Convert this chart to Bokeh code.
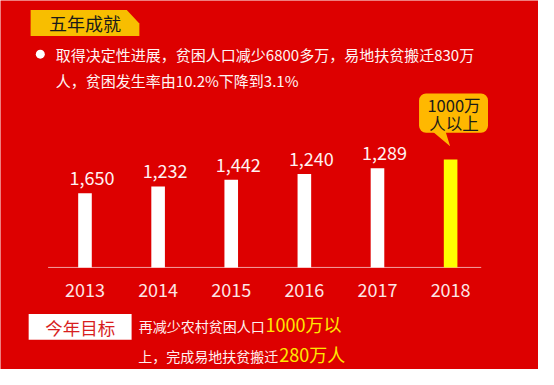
from bokeh.plotting import figure
from bokeh.models import Range1d, BoxAnnotation
from bokeh.core.properties import value
from bokeh.embed import file_html
from bokeh.resources import INLINE

# ---- data ----
years = [2013, 2014, 2015, 2016, 2017, 2018]
bar_heights = [77.5, 84.5, 91.5, 97.5, 103.5, 112.5]   # drawn bar heights (chart units)
value_labels = ["1,650", "1,232", "1,442", "1,240", "1,289"]
year_labels = ["2013", "2014", "2015", "2016", "2017", "2018"]
title_text = "五年成就"
bullet_line1 = "取得决定性进展，贫困人口减少6800多万，易地扶贫搬迁830万"
bullet_line2 = "人，贫困发生率由10.2%下降到3.1%"
callout_lines = ["1000万", "人以上"]
goal_title = "今年目标"
goal_parts_1 = ["再减少农村贫困人口", "1000万以"]
goal_parts_2 = ["上，完成易地扶贫搬迁", "280万人"]

FONT = value("Noto Sans CJK SC")
RED = "#DD0000"
WHITE = "#FFFFFF"
YELLOW = "#FFFF00"
GOLD = "#F8BE00"
TEXT_YELLOW = "#FFE800"

p = figure(width=538, height=369, output_backend="svg", toolbar_location=None,
           x_range=Range1d(2011.8446, 2019.2019), y_range=Range1d(-106.5, 278.5),
           min_border=0, background_fill_color=RED, border_fill_color=RED,
           outline_line_color=None)
p.axis.visible = False
p.grid.visible = False
p.extra_x_ranges = {"px": Range1d(0, 554)}
p.extra_y_ranges = {"py": Range1d(385, 0)}

def ptext(x, y, t, size, color, align="left", baseline="middle"):
    p.text(x=[x], y=[y], text=[t], x_range_name="px", y_range_name="py",
           text_font=FONT, text_font_size=size, text_color=color,
           text_align=align, text_baseline=baseline)

# ---- header ----
p.patch(x=[31, 130, 143, 143, 31], y=[10, 10, 24, 37, 37], x_range_name="px",
        y_range_name="py", fill_color=GOLD, line_color=None)
ptext(87, 23.5, title_text, "18px", "#1A1A1A", align="center")

p.scatter(x=[41], y=[56], size=9, marker="circle", x_range_name="px", y_range_name="py",
          fill_color=WHITE, line_color=None)
ptext(57, 56, bullet_line1, "15px", "#FFF4F4")
ptext(57, 83, bullet_line2, "15px", "#FFF4F4")

# ---- baseline ----
p.segment(x0=[49], y0=[278.5], x1=[495], y1=[278.5], x_range_name="px", y_range_name="py",
          line_color="#F2A0A0", line_width=1)

# ---- bars ----
colors = [WHITE] * (len(years) - 1) + [YELLOW]
p.vbar(x=years, top=bar_heights, bottom=0, width=0.186, fill_color=colors, line_color=None)

n = len(value_labels)
p.text(x=years[:n], y=bar_heights[:n], text=value_labels, text_font=FONT,
       text_font_size="18px", text_color="#FFF2F2", text_align="center",
       text_baseline="alphabetic", x_offset=7, y_offset=-15)

p.text(x=years, y=[0] * len(years), text=year_labels, text_font=FONT,
       text_font_size="18px", text_color="#FCE6E6", text_align="center",
       text_baseline="middle", y_offset=23)

# ---- callout ----
box = BoxAnnotation(left=431, right=502, top=97, bottom=138, x_range_name="px",
                    y_range_name="py", fill_color="#FFB800", fill_alpha=1,
                    line_alpha=0, border_radius=7, level="underlay")
p.add_layout(box)
p.patch(x=[444, 458, 463], y=[136, 136, 152], x_range_name="px", y_range_name="py",
        fill_color="#FFB800", line_color=None)
ptext(467, 109.5, callout_lines[0], "16.5px", "#1A1A1A", align="center")
ptext(467, 127.5, callout_lines[1], "16.5px", "#1A1A1A", align="center")

# ---- goal ----
p.quad(left=[29], right=[135], top=[327], bottom=[354], x_range_name="px", y_range_name="py",
       fill_color=WHITE, line_color=None)
ptext(82, 341, goal_title, "17.5px", "#D81E1E", align="center")
ptext(272, 340, goal_parts_1[0], "14px", "#FFF0F0", align="right")
ptext(273, 338, goal_parts_1[1], "18px", TEXT_YELLOW)
ptext(286, 371, goal_parts_2[0], "14px", "#FFF0F0", align="right")
ptext(287, 369, goal_parts_2[1], "18px", TEXT_YELLOW)

open("out.html", "w").write(file_html(p, INLINE))
